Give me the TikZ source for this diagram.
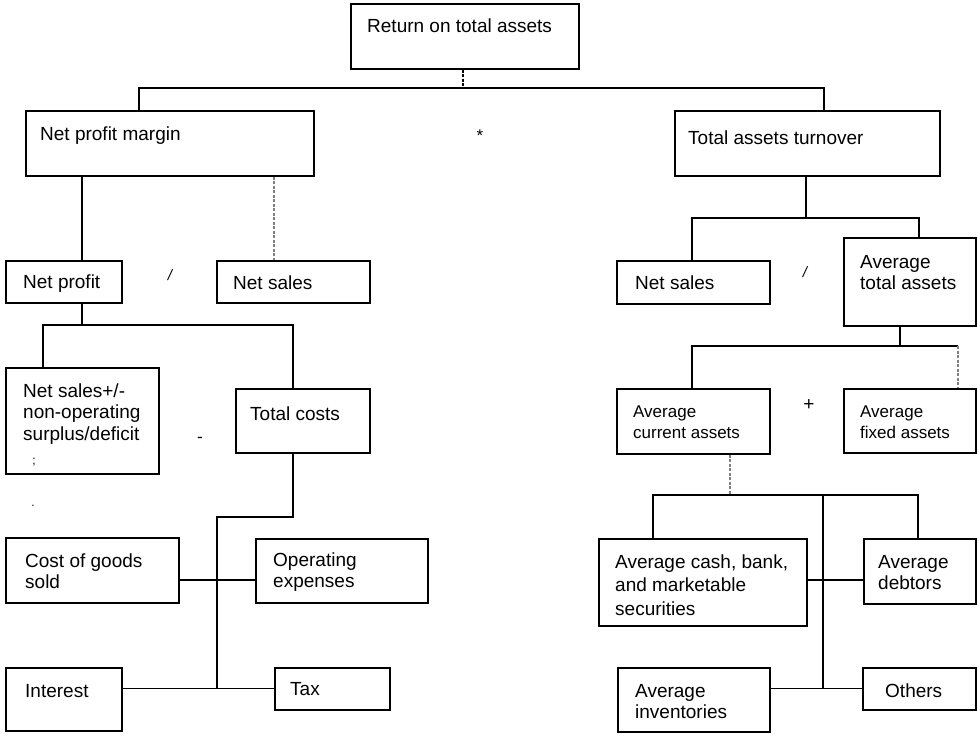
\documentclass[tikz,border=0pt]{standalone}
\usepackage{fontspec}
\setmainfont{Liberation Sans}
\newcommand{\mlines}[1]{\begin{tabular}[t]{@{}l@{}}#1\end{tabular}}
\begin{document}
\begin{tikzpicture}[x=1pt,y=-1pt,
  box/.style={draw, line width=1.6pt, inner sep=0pt, anchor=north west},
  txt/.style={inner sep=0pt, anchor=base west, font=\fontsize{19}{21.5}\selectfont},
  stxt/.style={inner sep=0pt, anchor=base west, font=\fontsize{17}{21}\selectfont},
  op/.style={inner sep=0pt, font=\fontsize{17}{19}\selectfont},
  conn/.style={line width=1.3pt},
  faint/.style={line width=1.2pt, gray, dash pattern=on 3pt off 1.5pt}]
\useasboundingbox (0,0) rectangle (977,734);
% boxes
\node[box, minimum width=228pt, minimum height=65pt] (ret) at (350,3) {};
\node[box, minimum width=288pt, minimum height=65pt] (npm) at (25,110) {};
\node[box, minimum width=265pt, minimum height=65pt] (tat) at (674,110) {};
\node[box, minimum width=116pt, minimum height=42pt] (np) at (5,260) {};
\node[box, minimum width=153pt, minimum height=42pt] (ns1) at (216,260) {};
\node[box, minimum width=153pt, minimum height=43pt] (ns2) at (616,260) {};
\node[box, minimum width=132pt, minimum height=88pt] (ata) at (843,237) {};
\node[box, minimum width=153pt, minimum height=106pt] (nspm) at (5,367) {};
\node[box, minimum width=134pt, minimum height=64pt] (tc) at (235,388) {};
\node[box, minimum width=153pt, minimum height=65pt] (aca) at (616,388) {};
\node[box, minimum width=132pt, minimum height=64pt] (afa) at (843,388) {};
\node[box, minimum width=173pt, minimum height=65pt] (cogs) at (5,537) {};
\node[box, minimum width=172pt, minimum height=64pt] (opex) at (255,538) {};
\node[box, minimum width=116pt, minimum height=63pt] (int) at (5,667) {};
\node[box, minimum width=115pt, minimum height=42pt] (tax) at (274,667) {};
\node[box, minimum width=208pt, minimum height=87pt] (cash) at (598,538) {};
\node[box, minimum width=112pt, minimum height=65pt] (deb) at (863,538) {};
\node[box, minimum width=152pt, minimum height=64pt] (inv) at (617,667) {};
\node[box, minimum width=113pt, minimum height=42pt] (oth) at (862,667) {};
% texts
\node[txt] (tret) at (367,32) {Return on total assets};
\node[txt] (tnpm) at (40,140) {Net profit margin};
\node[txt] (ttat) at (688,144) {Total assets turnover};
\node[txt] (tnp) at (23,288) {Net profit};
\node[txt] (tns1) at (233,289) {Net sales};
\node[txt] (tns2) at (635,289) {Net sales};
\node[txt] (tata) at (860,268) {\mlines{Average\\total assets}};
\node[txt, font=\fontsize{19}{21.5}\selectfont] (tnspm) at (23,397) {\mlines{Net sales+/-\\non-operating\\surplus/deficit}};
\node[txt] (ttc) at (250,420) {Total costs};
\node[stxt] (taca) at (633,417) {\mlines{Average\\current assets}};
\node[stxt] (tafa) at (860,417) {\mlines{Average\\fixed assets}};
\node[txt] (tcogs) at (25,567) {\mlines{Cost of goods\\sold}};
\node[txt] (topex) at (273,566) {\mlines{Operating\\expenses}};
\node[txt] (tint) at (25,697) {Interest};
\node[txt] (ttax) at (290,695) {Tax};
\node[txt, font=\fontsize{19}{23.5}\selectfont] (tcash) at (615,568) {\mlines{Average cash, bank,\\and marketable\\securities}};
\node[txt] (tdeb) at (878,568) {\mlines{Average\\debtors}};
\node[txt] (tinv) at (635,697) {\mlines{Average\\inventories}};
\node[txt] (toth) at (885,697) {Others};
% operators and marks
\node[op] (o1) at (480,136) {*};
\node[op, font=\fontsize{15}{17}\itshape] (o2) at (170,275) {/};
\node[op, font=\fontsize{15}{17}\itshape] (o3) at (805,272) {/};
\node[op] (o4) at (200,440) {-};
\node[op, font=\fontsize{19}{21}\selectfont] (o5) at (809,405) {+};
\node[op, font=\fontsize{12}{14}\selectfont] (m1) at (34,462) {;};
\node[op, font=\fontsize{12}{14}\selectfont] (m2) at (33,506) {.};
% helper coordinates
\coordinate (h1) at (0,88);
\coordinate (h2) at (0,325);
\coordinate (h3) at (0,517);
\coordinate (h5) at (0,580);
\coordinate (h6) at (0,218);
\coordinate (h7) at (0,346);
\coordinate (h8) at (0,495);
\coordinate (xa) at (463,0);
\coordinate (xb) at (139,0);
\coordinate (xc) at (824,0);
\coordinate (xd) at (82,0);
\coordinate (xe) at (274,0);
\coordinate (xf) at (43,0);
\coordinate (xg) at (293,0);
\coordinate (xh) at (217,0);
\coordinate (xi) at (806,0);
\coordinate (xj) at (692,0);
\coordinate (xk) at (919,0);
\coordinate (xl) at (900,0);
\coordinate (xm) at (958,0);
\coordinate (xn) at (730,0);
\coordinate (xo) at (653,0);
\coordinate (xp) at (918,0);
\coordinate (xq) at (823,0);
% connectors
\draw[faint, black] (ret.south -| xa) -- (h1 -| xa);
\draw[conn] (npm.north -| xb) |- (h1 -| xc) -- (tat.north -| xc);
\draw[conn] (npm.south -| xd) -- (np.north -| xd);
\draw[faint] (npm.south -| xe) -- (ns1.north -| xe);
\draw[conn] (np.south -| xd) -- (h2 -| xd);
\draw[conn] (nspm.north -| xf) |- (h2 -| xg) -- (tc.north -| xg);
\draw[conn] (tc.south -| xg) |- (h3 -| xh) -- (xh |- tax.west);
\draw[conn] (cogs.east |- h5) -- (opex.west |- h5);
\draw[conn] (int.east |- tax.west) -- (tax.west);
\draw[conn] (tat.south -| xi) -- (h6 -| xi);
\draw[conn] (ns2.north -| xj) |- (h6 -| xk) -- (ata.north -| xk);
\draw[conn] (ata.south -| xl) -- (h7 -| xl);
\draw[conn] (aca.north -| xj) |- (h7 -| xm);
\draw[faint] (h7 -| xm) -- (afa.north -| xm);
\draw[faint] (aca.south -| xn) -- (h8 -| xn);
\draw[conn] (cash.north -| xo) |- (h8 -| xp) -- (deb.north -| xp);
\draw[conn] (h8 -| xq) -- (oth.west -| xq);
\draw[conn] (cash.east |- h5) -- (deb.west |- h5);
\draw[conn] (inv.east |- oth.west) -- (oth.west);
\end{tikzpicture}
\end{document}
